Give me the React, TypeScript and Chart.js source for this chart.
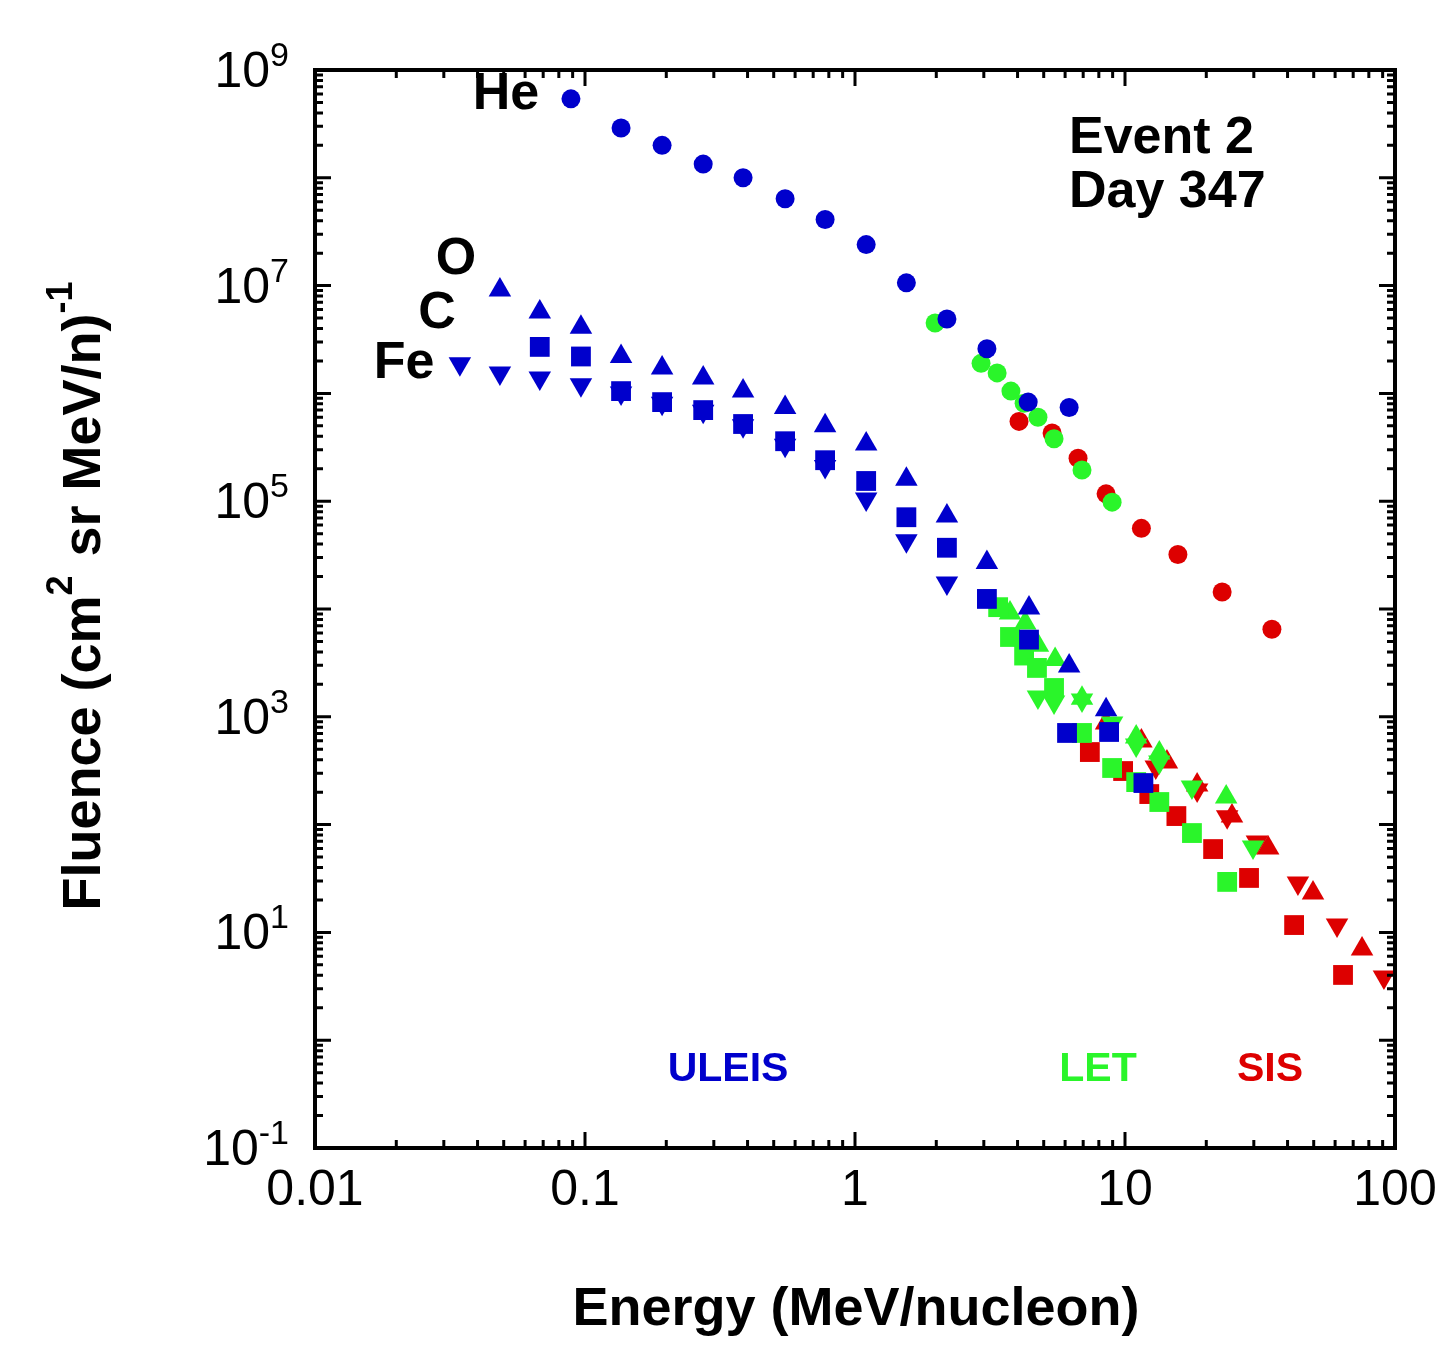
import React, { useEffect, useRef } from "react";
import { Chart, registerables } from "chart.js";
Chart.register(...registerables);

const BLUE = "#0000cc", GREEN = "#2af52a", RED = "#dd0000";

const uleisHeE = [0.0887,0.136,0.193,0.274,0.385,0.551,0.775,1.10,1.55,2.19,3.08,4.38,6.21];
const uleisHeF = [5.4e8,2.9e8,2.0e8,1.34e8,1.0e8,6.4e7,4.1e7,2.4e7,1.06e7,4.9e6,2.6e6,8.3e5,7.4e5];
const letHeE = [1.98,2.93,3.36,3.78,4.23,4.76,5.46,6.93,8.96];
const letHeF = [4.5e6,1.9e6,1.55e6,1.05e6,8.1e5,6.0e5,3.8e5,1.95e5,9.8e4];
const sisHeE = [4.05,5.37,6.70,8.51,11.5,15.7,22.9,35.0];
const sisHeF = [5.5e5,4.3e5,2.5e5,1.17e5,5.6e4,3.2e4,1.44e4,6.5e3];

const uleisOE = [0.0484,0.068,0.0966,0.136,0.193,0.274,0.385,0.551,0.775,1.10,1.55,2.19,3.08,4.41,6.21,8.51];
const uleisOF = [9.1e6,5.7e6,4.1e6,2.2e6,1.72e6,1.39e6,1.05e6,7.4e5,5.0e5,3.4e5,1.6e5,7.3e4,2.7e4,1.02e4,2.96e3,1.16e3];
const uleisCE = [0.068,0.0966,0.136,0.193,0.274,0.385,0.551,0.775,1.10,1.55,2.19,3.08,4.41,6.1,8.73,11.7];
const uleisCF = [2.7e6,2.2e6,1.05e6,8.3e5,7.0e5,5.2e5,3.6e5,2.4e5,1.54e5,7.1e4,3.7e4,1.24e4,5.2e3,708,723,243];
const uleisFeE = [0.0344,0.0484,0.068,0.0966,0.136,0.193,0.274,0.385,0.551,0.775,1.10,1.55,2.19];
const uleisFeF = [1.88e6,1.55e6,1.39e6,1.2e6,1.01e6,8.1e5,6.84e5,5.0e5,3.3e5,2.1e5,1.05e5,4.3e4,1.74e4];

const letOE = [3.75,4.27,4.76,5.51,6.93,11.0,13.4,23.7];
const letOF = [9.2e3,7.4e3,4.6e3,3.4e3,1.49e3,650,461,180];
const letCE = [3.39,3.75,4.23,4.72,5.46,6.93,8.96,11.0,13.4,17.7,23.9];
const letCF = [1.04e4,5.5e3,3.7e3,2.84e3,1.85e3,708,335,248,162,83.5,29.4];
const letFeE = [4.76,5.46,6.93,8.96,11.0,13.4,17.7,29.8];
const letFeF = [1.53e3,1.37e3,1.43e3,875,547,381,223,62];

const sisCE = [7.41,9.84,12.3,15.5,21.2,28.8,42.3,64.2];
const sisCF = [471,314,192,120,59.3,32,11.7,4.03];
const sisOE = [8.51,11.5,14.3,18.5,24.9,33.9,49.7,75.5];
const sisOF = [875,597,381,233,120,60.6,23.2,7.0];
const sisFeE = [13.0,18.5,23.9,30.8,43.7,61,91];
const sisFeF = [342,209,118,68.9,28.7,11.7,3.86];

const xTickLabels = ["0.01","0.1","1","10","100"];
const yTickExps = [9,7,5,3,1,-1];

const zip = (e: number[], f: number[]) => e.map((x, i) => ({ x, y: f[i] }));
const ds = (e: number[], f: number[], color: string, style: string, r: number, rot = 0) => ({
  data: zip(e, f), showLine: false, pointStyle: style, pointRadius: r, pointRotation: rot,
  backgroundColor: color, borderColor: color, borderWidth: 0,
});

const FONT = "'Liberation Sans', Arial, sans-serif";

const decor = {
  id: "decor",
  afterDraw(chart: any) {
    const ctx = chart.ctx;
    const xs = chart.scales.x, ys = chart.scales.y;
    const { left, right, top, bottom } = chart.chartArea;
    ctx.save();
    ctx.strokeStyle = "#000";
    ctx.lineWidth = 3;
    for (let d = -2; d <= 2; d++) {
      for (let m = 1; m <= 9; m++) {
        const v = m * Math.pow(10, d);
        if (v > 100) continue;
        const px = xs.getPixelForValue(v);
        const len = m === 1 ? 16 : 8;
        ctx.beginPath();
        ctx.moveTo(px, bottom); ctx.lineTo(px, bottom - len);
        ctx.moveTo(px, top); ctx.lineTo(px, top + len);
        ctx.stroke();
      }
    }
    for (let d = -1; d <= 9; d++) {
      for (let m = 1; m <= 9; m++) {
        const v = m * Math.pow(10, d);
        if (v > 1e9) continue;
        const py = ys.getPixelForValue(v);
        const len = m === 1 ? 16 : 8;
        ctx.beginPath();
        ctx.moveTo(left, py); ctx.lineTo(left + len, py);
        ctx.moveTo(right, py); ctx.lineTo(right - len, py);
        ctx.stroke();
      }
    }
    ctx.lineWidth = 4;
    ctx.strokeRect(left, top, right - left, bottom - top);
    ctx.fillStyle = "#000";
    ctx.font = `50px ${FONT}`;
    ctx.textAlign = "center"; ctx.textBaseline = "alphabetic";
    xTickLabels.forEach((t) => ctx.fillText(t, xs.getPixelForValue(parseFloat(t)), 1205));
    yTickExps.forEach((e) => {
      const py = ys.getPixelForValue(Math.pow(10, e));
      ctx.font = `34px ${FONT}`;
      ctx.textAlign = "left";
      const es = String(e);
      const ew = ctx.measureText(es).width;
      ctx.fillText(es, 289 - ew, py - 4);
      ctx.font = `50px ${FONT}`;
      ctx.textAlign = "right";
      ctx.fillText("10", 289 - ew, py + 17);
    });
    ctx.font = `bold 54px ${FONT}`;
    ctx.textAlign = "center";
    ctx.fillText("Energy (MeV/nucleon)", 856, 1325);
    ctx.save();
    ctx.translate(100, 598);
    ctx.rotate(-Math.PI / 2);
    ctx.textAlign = "left";
    const parts: [string, boolean][] = [["Fluence (cm", false], ["2", true], [" sr MeV/n)", false], ["-1", true]];
    let total = 0;
    parts.forEach(([s, sup]) => { ctx.font = sup ? `bold 36px ${FONT}` : `bold 54px ${FONT}`; total += ctx.measureText(s).width; });
    let cx = -total / 2;
    parts.forEach(([s, sup]) => {
      ctx.font = sup ? `bold 36px ${FONT}` : `bold 54px ${FONT}`;
      ctx.fillText(s, cx, sup ? -28 : 0);
      cx += ctx.measureText(s).width + (sup ? 4 : 0);
    });
    ctx.restore();
    ctx.font = `bold 52px ${FONT}`;
    ctx.textAlign = "center";
    ctx.fillText("He", 506, 109);
    ctx.fillText("O", 456, 274);
    ctx.fillText("C", 437, 328);
    ctx.fillText("Fe", 404, 378);
    ctx.textAlign = "left";
    ctx.fillText("Event 2", 1069, 153);
    ctx.fillText("Day 347", 1069, 207);
    ctx.font = `bold 41px ${FONT}`;
    ctx.textAlign = "center";
    ctx.fillStyle = BLUE; ctx.fillText("ULEIS", 728, 1081);
    ctx.fillStyle = GREEN; ctx.fillText("LET", 1098, 1081);
    ctx.fillStyle = RED; ctx.fillText("SIS", 1270, 1081);
    ctx.restore();
  },
};

export default function App() {
  const ref = useRef<HTMLCanvasElement>(null);
  useEffect(() => {
    document.body.style.margin = "0";
    const chart = new Chart(ref.current!, {
      type: "scatter",
      data: {
        datasets: [
          ds(uleisFeE, uleisFeF, BLUE, "triangle", 13, 180),
          ds(uleisCE, uleisCF, BLUE, "rect", 14),
          ds(uleisOE, uleisOF, BLUE, "triangle", 13),
          ds(uleisHeE, uleisHeF, BLUE, "circle", 9.5),
          ds(letFeE, letFeF, GREEN, "triangle", 13, 180),
          ds(letCE, letCF, GREEN, "rect", 14),
          ds(letOE, letOF, GREEN, "triangle", 13),
          ds(letHeE, letHeF, GREEN, "circle", 9.5),
          ds(sisCE, sisCF, RED, "rect", 14),
          ds(sisOE, sisOF, RED, "triangle", 13),
          ds(sisFeE, sisFeF, RED, "triangle", 13, 180),
          ds(sisHeE, sisHeF, RED, "circle", 9.5),
        ] as any,
      },
      options: {
        animation: false,
        responsive: false,
        devicePixelRatio: 1,
        layout: { padding: { left: 315, right: 60, top: 70, bottom: 205 } },
        plugins: { legend: { display: false }, tooltip: { enabled: false } },
        scales: {
          x: { type: "logarithmic", min: 0.01, max: 100, display: false },
          y: { type: "logarithmic", min: 0.1, max: 1e9, display: false },
        },
      },
      plugins: [decor],
    });
    return () => chart.destroy();
  }, []);
  return <canvas ref={ref} width={1455} height={1353} style={{ display: "block" }} />;
}
